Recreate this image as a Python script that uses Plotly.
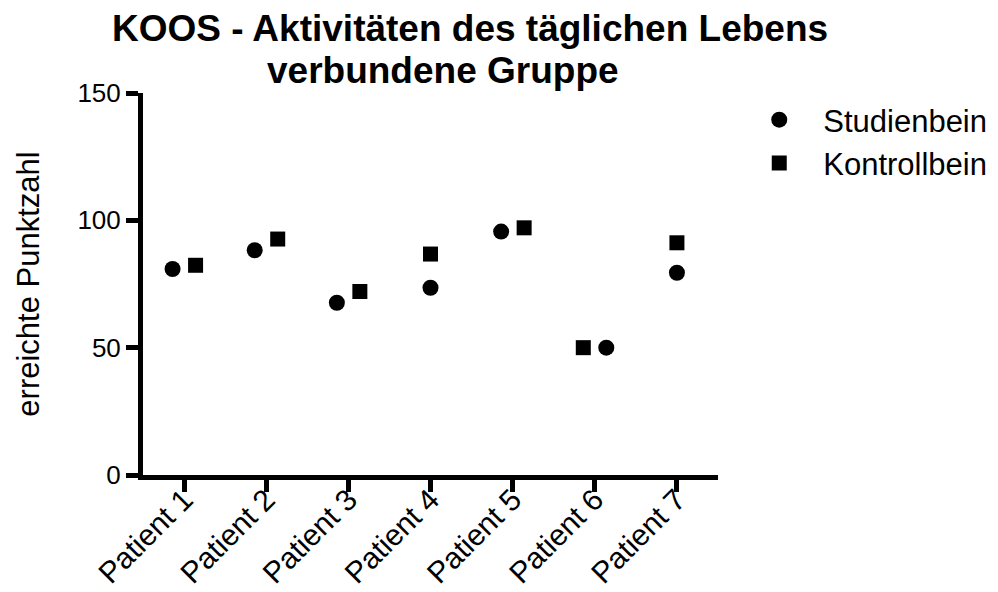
import plotly.graph_objects as go

patients = ["Patient 1", "Patient 2", "Patient 3", "Patient 4", "Patient 5", "Patient 6", "Patient 7"]
studienbein = [80.88, 88.24, 67.65, 73.53, 95.59, 50.0, 79.41]
kontrollbein = [82.35, 92.65, 72.06, 86.76, 97.06, 50.0, 91.18]

# horizontal spread so overlapping points sit side by side (like the original)
shift_studien = [-0.14, -0.14, -0.14, 0, -0.14, 0.14, 0]
shift_kontroll = [0.14, 0.14, 0.14, 0, 0.14, -0.14, 0]

font = "Liberation Sans, Arial, sans-serif"

xs = [i + s for i, s in enumerate(shift_studien)]
xk = [i + s for i, s in enumerate(shift_kontroll)]

# page body has an 8px margin, so everything is laid out 8px up/left of the target
W, H = 998, 592

fig = go.Figure()
fig.add_trace(go.Scatter(x=xs, y=studienbein, mode="markers", name="Studienbein",
                         marker=dict(symbol="circle", size=16, color="black")))
fig.add_trace(go.Scatter(x=xk, y=kontrollbein, mode="markers", name="Kontrollbein",
                         marker=dict(symbol="square", size=15, color="black")))

fig.update_layout(
    width=W, height=H,
    margin=dict(l=135, r=288, t=85, b=125, autoexpand=False),
    plot_bgcolor="white", paper_bgcolor="white",
    font=dict(family=font, color="black"),
    title=dict(text="<b>KOOS - Aktivitäten des täglichen Lebens</b>",
               xref="container", yref="container", x=462 / W, xanchor="center",
               y=1 - 7 / H, yanchor="top", font=dict(size=37)),
    annotations=[dict(text="<b>verbundene Gruppe</b>", xref="paper", yref="paper",
                      x=(435 - 135) / 575, y=(467 - 62) / 382, xanchor="center", yanchor="middle",
                      showarrow=False, font=dict(size=37))],
    legend=dict(x=1.03, y=1.0, xanchor="left", yanchor="top", font=dict(size=31),
                bgcolor="rgba(0,0,0,0)", itemwidth=78, tracegroupgap=0),
)
fig.update_xaxes(range=[-0.5, 6.5], tickvals=list(range(len(patients))), ticktext=patients,
                 tickangle=-45, showgrid=False, zeroline=False, showline=True, linewidth=5,
                 linecolor="black", ticks="outside", ticklen=12, tickwidth=5, tickcolor="black",
                 tickfont=dict(size=30), automargin=False, ticklabelstandoff=-22)
fig.update_yaxes(range=[0, 150], tickvals=[0, 50, 100, 150], showgrid=False, zeroline=False,
                 showline=True, linewidth=5, linecolor="black", ticks="outside", ticklen=12,
                 tickwidth=5, tickcolor="black", tickfont=dict(size=26), automargin=False,
                 title=dict(text="erreichte Punktzahl", font=dict(size=31), standoff=30))

fig.write_html("out.html")
